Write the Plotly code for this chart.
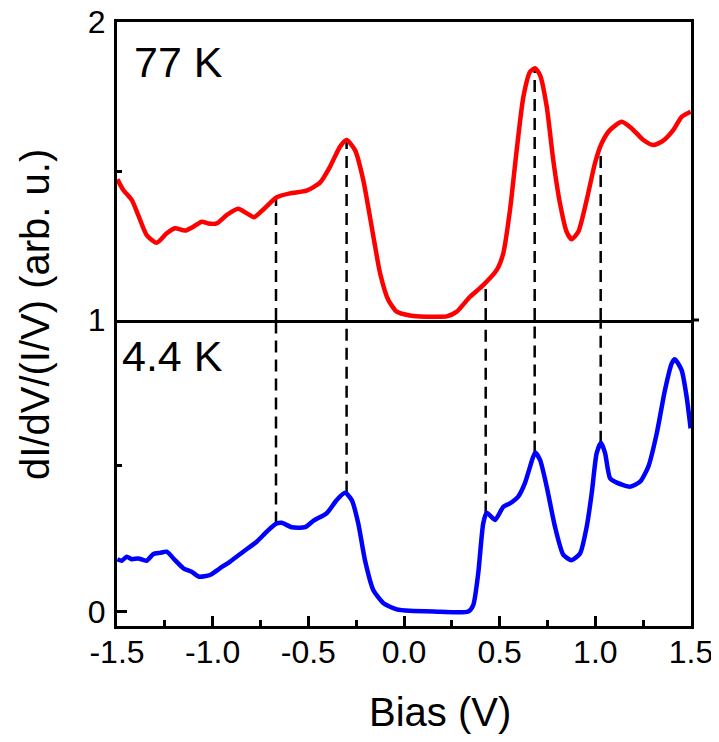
import plotly.graph_objects as go

# ---- data ----
red_bias = [-1.498,-1.467,-1.423,-1.389,-1.345,-1.293,-1.240,-1.197,-1.145,-1.101,-1.057,-1.023,-0.979,-0.927,
            -0.866,-0.822,-0.784,-0.735,-0.665,-0.596,-0.509,-0.439,-0.387,-0.334,-0.300,-0.256,-0.213,-0.160,
            -0.125,-0.082,-0.038,0.031,0.084,0.150,0.223,0.276,0.345,0.414,0.485,0.519,0.554,0.589,0.624,0.659,
            0.685,0.711,0.746,0.780,0.815,0.850,0.876,0.911,0.955,0.998,1.033,1.077,1.138,1.190,1.251,1.303,
            1.355,1.408,1.451,1.498]
red_val = [1.472,1.436,1.403,1.352,1.285,1.259,1.291,1.308,1.300,1.313,1.330,1.324,1.324,1.352,
           1.373,1.358,1.345,1.371,1.412,1.425,1.434,1.461,1.514,1.582,1.604,1.570,1.470,1.280,
           1.157,1.067,1.028,1.015,1.012,1.011,1.012,1.028,1.078,1.117,1.168,1.224,1.369,1.570,1.749,1.833,
           1.845,1.822,1.716,1.537,1.392,1.296,1.271,1.296,1.403,1.526,1.593,1.638,1.665,1.643,1.604,1.587,
           1.602,1.638,1.682,1.699]

blue_bias = [-1.498,-1.475,-1.449,-1.423,-1.389,-1.345,-1.310,-1.275,-1.240,-1.197,-1.153,-1.110,-1.070,-1.014,
             -0.962,-0.909,-0.840,-0.770,-0.709,-0.665,-0.639,-0.587,-0.517,-0.474,-0.404,-0.352,-0.308,-0.273,
             -0.239,-0.204,-0.160,-0.107,-0.038,0.031,0.153,0.336,0.362,0.388,0.414,0.432,0.476,0.519,0.554,
             0.597,0.632,0.659,0.685,0.711,0.746,0.789,0.833,0.876,0.920,0.955,0.981,1.007,1.030,1.051,1.077,
             1.112,1.181,1.234,1.277,1.321,1.364,1.399,1.416,1.451,1.477,1.498]
blue_val = [0.179,0.174,0.188,0.179,0.182,0.174,0.197,0.201,0.205,0.176,0.148,0.136,0.119,0.125,
            0.148,0.171,0.205,0.239,0.279,0.302,0.304,0.289,0.289,0.311,0.337,0.382,0.407,0.382,
            0.302,0.176,0.073,0.028,0.007,0.002,0.0,0.0,0.022,0.131,0.302,0.339,0.314,0.359,0.371,
            0.394,0.440,0.497,0.545,0.520,0.428,0.291,0.194,0.176,0.199,0.291,0.405,0.543,0.579,0.543,0.457,
            0.442,0.428,0.445,0.497,0.611,0.760,0.851,0.865,0.828,0.737,0.628]

# dashed guide lines: bias position, value on 77 K curve, value on 4.4 K curve
peak_bias = [-0.669, -0.300, 0.427, 0.683, 1.028]
peak_top = [1.41, 1.604, 1.117, 1.845, 1.559]
peak_bottom = [0.302, 0.407, 0.339, 0.545, 0.579]

x_ticks = [-1.5, -1.0, -0.5, 0.0, 0.5, 1.0, 1.5]
x_ticktext = ["-1.5", "-1.0", "-0.5", "0.0", "0.5", "1.0", "1.5"]
label_top = "77 K"
label_bottom = "4.4 K"
x_title = "Bias (V)"
y_title = "dI/dV/(I/V) (arb. u.)"

FONT = "Liberation Sans, Arial, sans-serif"
# the page body adds an 8 px margin, so the figure is sized to fit the 719x742 window
BODY = 8
W, H = 719 - BODY, 742 - BODY
# plot area in page pixels
PL, PR, PT, PB = 117, 691, 22, 626
L, T = PL - BODY, PT - BODY
R, B = W - (PR - BODY), H - (PB - BODY)
PW = PR - PL
PH = PB - PT
split = (PB - 320) / PH  # fraction of height for lower panel


def px(xp):
    return (xp - PL) / PW


def py(yp):
    return (PB - yp) / PH


fig = go.Figure()
fig.add_trace(go.Scatter(x=blue_bias, y=blue_val, mode="lines", xaxis="x", yaxis="y",
                         line=dict(color="#0000ff", width=4.5, shape="spline", smoothing=0.6),
                         showlegend=False, hoverinfo="skip"))
fig.add_trace(go.Scatter(x=red_bias, y=red_val, mode="lines", xaxis="x2", yaxis="y2",
                         line=dict(color="#ff0000", width=4.5, shape="spline", smoothing=0.6),
                         showlegend=False, hoverinfo="skip"))

dash_line = dict(color="black", width=2.5, dash="12px,7px")
shapes = []
for xb, yt, yb in zip(peak_bias, peak_top, peak_bottom):
    shapes.append(dict(type="line", xref="x2", yref="y2", x0=xb, x1=xb, y0=1.0, y1=yt,
                       line=dash_line, layer="below"))
    shapes.append(dict(type="line", xref="x", yref="y", x0=xb, x1=xb, y0=yb, y1=1.0,
                       line=dash_line, layer="below"))
# middle separator stub extends a little past the right frame
shapes.append(dict(type="line", xref="paper", yref="paper", x0=1, x1=px(699),
                   y0=split, y1=split, line=dict(color="black", width=3)))

line_common = dict(showline=True, linecolor="black", linewidth=3,
                   showgrid=False, zeroline=False, automargin=False)
tick_font = dict(size=32, family=FONT, color="black")

fig.update_layout(
    width=W, height=H,
    margin=dict(l=L, r=R, t=T, b=B, pad=0, autoexpand=False),
    paper_bgcolor="white", plot_bgcolor="white",
    font=dict(family=FONT, color="black", size=32),
    xaxis=dict(**line_common, mirror=False, range=[-1.5, 1.5], anchor="y",
               tickmode="array", tickvals=x_ticks, ticktext=x_ticktext,
               ticks="inside", ticklen=10, tickwidth=2.5, tickcolor="black",
               minor=dict(ticks="inside", ticklen=6, tickwidth=2.5, tickcolor="black",
                          tickvals=[-1.25, -0.75, -0.25, 0.25, 0.75, 1.25]),
               tickfont=tick_font, ticklabelstandoff=-4, ticklabeloverflow="allow"),
    xaxis2=dict(**line_common, mirror=True, range=[-1.5, 1.5], anchor="y2", matches="x",
                showticklabels=False, ticks=""),
    yaxis=dict(**line_common, mirror=True, range=[-0.05, 1.0], domain=[0, split], anchor="x",
               tickmode="array", tickvals=[0], ticktext=["0"],
               ticks="inside", ticklen=10, tickwidth=2.5, tickcolor="black",
               minor=dict(ticks="inside", ticklen=5, tickwidth=2.5, tickcolor="black", tickvals=[0.5]),
               tickfont=tick_font, ticklabelstandoff=2, ticklabeloverflow="allow"),
    yaxis2=dict(**line_common, mirror=True, range=[1.0, 2.0], domain=[split, 1], anchor="x2",
                tickmode="array", tickvals=[1, 2], ticktext=["1", "2"],
                ticks="inside", ticklen=10, tickwidth=2.5, tickcolor="black",
                minor=dict(ticks="inside", ticklen=5, tickwidth=2.5, tickcolor="black", tickvals=[1.5]),
                tickfont=tick_font, ticklabelstandoff=2, ticklabeloverflow="allow"),
    shapes=shapes,
    annotations=[
        dict(text=label_top, xref="paper", yref="paper", x=px(132), y=py(62),
             xanchor="left", yanchor="middle", showarrow=False,
             font=dict(size=43, family=FONT)),
        dict(text=label_bottom, xref="paper", yref="paper", x=px(120), y=py(356),
             xanchor="left", yanchor="middle", showarrow=False,
             font=dict(size=43, family=FONT)),
        dict(text=x_title, xref="paper", yref="paper", x=px(440), y=py(712),
             xanchor="center", yanchor="middle", showarrow=False,
             font=dict(size=40, family=FONT)),
        dict(text=y_title, xref="paper", yref="paper", x=px(35), y=py(315),
             xanchor="center", yanchor="middle", showarrow=False,
             textangle=-90, font=dict(size=40, family=FONT)),
    ],
)

fig.write_html("out.html")
